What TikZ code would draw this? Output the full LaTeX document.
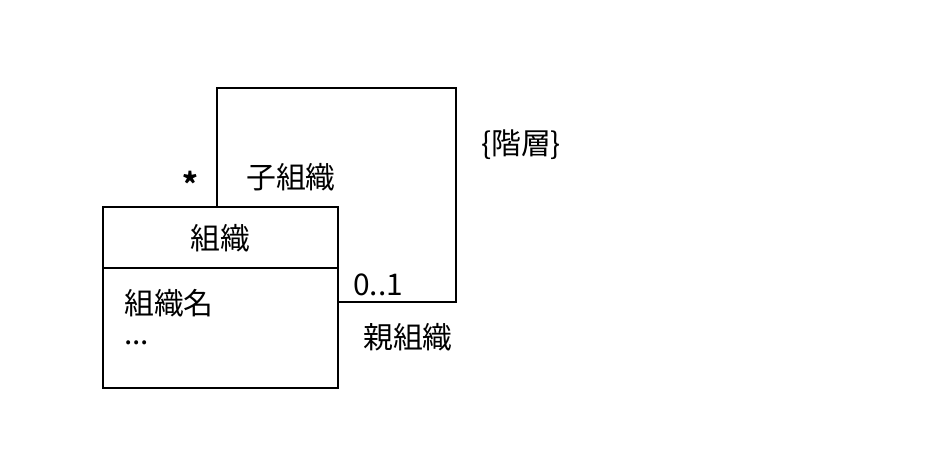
\documentclass[tikz,border=0pt]{standalone}
\usepackage{fontspec}
\setmainfont{Noto Sans CJK JP}
\usetikzlibrary{calc}
\tikzstyle{every node}=[font=\fontsize{17}{20}\selectfont]
\begin{document}
\begin{tikzpicture}[x=0.02cm,y=-0.02cm]
            \useasboundingbox (0,0) rectangle (950,460);
            \tikzset{line/.style={line width=1.6pt}}

            % class box
            \coordinate (TL) at (103, 207) {};
            \coordinate (BR) at (338, 388) {};
            \draw [line] (TL) rectangle (BR);
            \draw [line] (103,268) -- (338,268);
            \node (cls) at (220, 238) {組織};
            \node [anchor=west] (attr) at (118, 303) {組織名};
            \node [anchor=west] (dots) at (118, 343) {...};

            % self association
            \coordinate (S) at (217, 207) {};
            \coordinate (E) at (338, 302) {};
            \draw [line] (S) -- (217, 88) -- (456, 88) -- (456, 302) -- (E);

            \node (mult1) at (190, 183) {\textbf{*}};
            \node (role1) at (291, 177) {子組織};
            \node (cons) at (521, 145) {\{階層\}};
            \node (mult2) at (378, 285) {0..1};
            \node (role2) at (408, 337) {親組織};
        \end{tikzpicture}
\end{document}
